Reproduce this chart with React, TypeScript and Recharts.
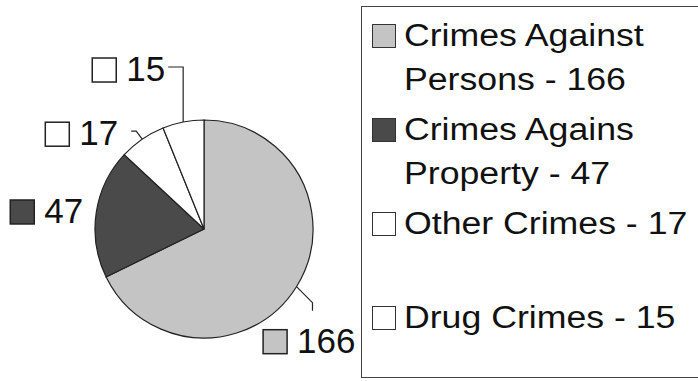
import React from 'react';
import { PieChart, Pie, Cell, Legend } from 'recharts';

// crime counts
const categories = ['Crimes Against Persons', 'Crimes Agains Property', 'Other Crimes', 'Drug Crimes'];
const counts = [166, 47, 17, 15];
const fills = ['#c4c4c4', '#4a4a4a', '#ffffff', '#ffffff'];

const FONT = '"Liberation Sans", Arial, Helvetica, sans-serif';
const LABEL_SIZE = 35;
const RAD = Math.PI / 180;

// where each outside label sits relative to its slice's outer edge point
const labelLayout = [
  { dx: 59, dy: 66, leader: [[16, 16], [16, 24]] },
  { dx: -13, dy: 10, leader: [] },
  { dx: -24, dy: 6, leader: [[-6, -8], [-11, -8]] },
  { dx: -18, dy: -41, leader: [[0, -55], [-15, -55]] },
];

const data = categories.map((name, i) => ({ name, value: counts[i] }));

const renderLabel = (props: any) => {
  const { cx, cy, midAngle, outerRadius, index } = props;
  const ex = cx + outerRadius * Math.cos(-midAngle * RAD);
  const ey = cy + outerRadius * Math.sin(-midAngle * RAD);
  const lay = labelLayout[index];
  const endX = ex + lay.dx;
  const baseY = ey + lay.dy;
  const txt = String(counts[index]);
  const textW = txt.length * 0.556 * LABEL_SIZE;
  const sqX = endX - textW - 10 - 24;
  const pts = [[0, 0], ...lay.leader].map(([x, y]) => `${ex + x},${ey + y}`).join(' ');
  return (
    <g key={`lbl-${index}`}>
      {lay.leader.length > 0 && (
        <polyline points={pts} fill="none" stroke="#222" strokeWidth={1.2} />
      )}
      <rect x={sqX} y={baseY - 23} width={24} height={24} fill={fills[index]} stroke="#222" strokeWidth={1.5} />
      <text x={endX} y={baseY} textAnchor="end" fontSize={LABEL_SIZE} fill="#111" fontFamily={FONT}>
        {txt}
      </text>
    </g>
  );
};

// legend box runs off the right edge in the scan, so no right border
const renderLegend = () => (
  <div
    style={{
      width: 337,
      height: 372,
      boxSizing: 'border-box',
      borderTop: '1.5px solid #444',
      borderLeft: '1.5px solid #444',
      borderBottom: '1.5px solid #444',
      borderRight: 'none',
      paddingTop: 6.5,
      fontFamily: FONT,
      color: '#111',
      background: '#fff',
    }}
  >
    {categories.map((name, i) => (
      <div key={name} style={{ position: 'relative', height: 94 }}>
        <div
          style={{
            position: 'absolute',
            left: 10,
            top: 10,
            width: 24,
            height: 24,
            boxSizing: 'border-box',
            background: fills[i],
            border: '1.5px solid #333',
          }}
        />
        <div
          style={{
            position: 'absolute',
            left: 42,
            top: 0,
            width: 252,
            fontSize: 31,
            lineHeight: '44px',
            transform: 'scaleX(1.15)',
            transformOrigin: 'left top',
            whiteSpace: 'normal',
          }}
        >
          {`${name} - ${counts[i]}`}
        </div>
      </div>
    ))}
  </div>
);

const App: React.FC = () => {
  return (
    <div style={{ position: 'absolute', left: 0, top: 0, width: 698, height: 381, background: '#fff', overflow: 'hidden' }}>
      <PieChart width={698} height={381} margin={{ top: 0, right: 0, bottom: 0, left: 0 }}>
        <Pie
          data={data}
          dataKey="value"
          nameKey="name"
          cx={204}
          cy={229}
          outerRadius={109}
          startAngle={90}
          endAngle={-270}
          stroke="#222"
          strokeWidth={1.2}
          label={renderLabel}
          labelLine={false}
          isAnimationActive={false}
        >
          {data.map((d, i) => (
            <Cell key={d.name} fill={fills[i]} />
          ))}
        </Pie>
        <Legend
          layout="vertical"
          align="right"
          verticalAlign="middle"
          content={renderLegend}
          wrapperStyle={{ left: 361, top: 6, width: 337, height: 372 }}
        />
      </PieChart>
    </div>
  );
};

export default App;
